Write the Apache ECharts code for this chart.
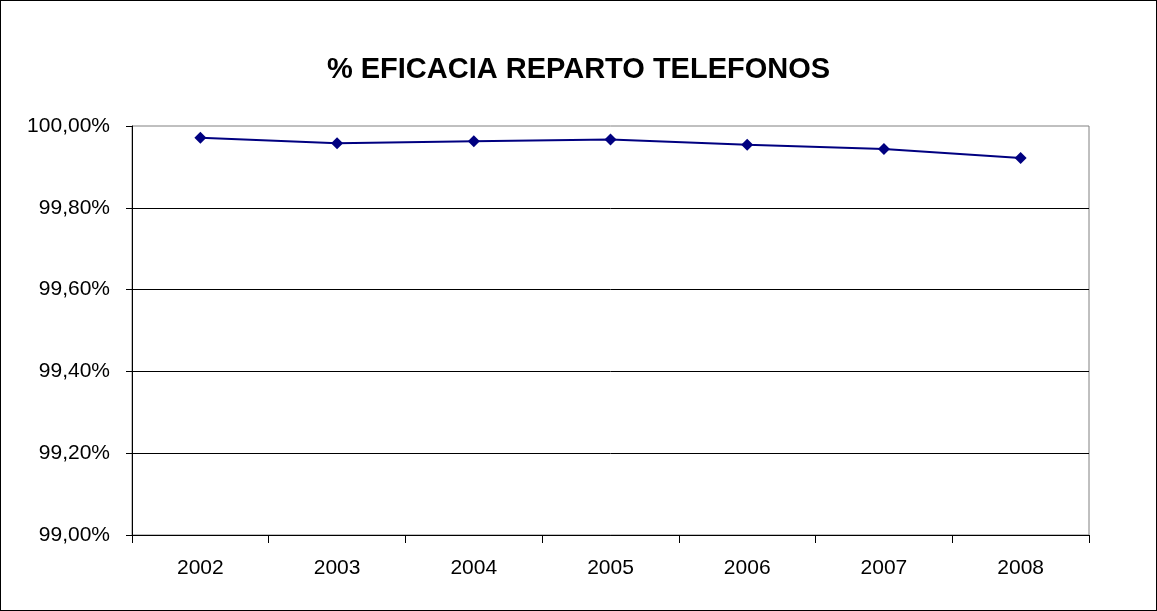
<!DOCTYPE html>
<html><head><meta charset="utf-8">
<script src="https://cdn.jsdelivr.net/npm/echarts@6/dist/echarts.min.js"></script>
<style>html,body{margin:0;padding:0;background:#fff}#c{width:1157px;height:611px;box-sizing:border-box;border:1px solid #000}</style>
</head><body><div id="c"></div>
<script>
const categories = ['2002','2003','2004','2005','2006','2007','2008'];
const values = [99.971, 99.958, 99.963, 99.967, 99.954, 99.944, 99.922];
const yTicks = [99.0, 99.2, 99.4, 99.6, 99.8, 100.0];
const titleText = '% EFICACIA REPARTO TELEFONOS';

const chart = echarts.init(document.getElementById('c'), null, {renderer:'canvas'});
chart.setOption({
  animation:false,
  title:{text:titleText,left:'center',top:49,textStyle:{fontFamily:'Liberation Sans, Arial',fontWeight:'bold',fontSize:29,color:'#000'}},
  grid:{left:131,top:125,right:67,bottom:75,show:true,borderColor:'#808080',borderWidth:1},
  xAxis:{type:'category',data:categories,boundaryGap:true,
    axisLine:{lineStyle:{color:'#000',width:1}},
    axisTick:{show:true,alignWithLabel:false,length:8,lineStyle:{color:'#000'}},
    axisLabel:{fontFamily:'Liberation Sans, Arial',fontSize:21,color:'#000',margin:23}},
  yAxis:{type:'value',min:yTicks[0],max:yTicks[yTicks.length-1],interval:0.2,
    axisLine:{show:true,lineStyle:{color:'#000',width:1}},
    axisTick:{show:true,length:6,inside:false,lineStyle:{color:'#000'}},
    splitLine:{showMaxLine:false,lineStyle:{color:'#000',width:1}},
    axisLabel:{fontFamily:'Liberation Sans, Arial',fontSize:21,color:'#000',margin:22,
      formatter:v=>v.toFixed(2).replace('.',',')+'%'}},
  series:[{type:'line',data:values,symbol:'diamond',symbolSize:12,
    lineStyle:{color:'#000080',width:2},itemStyle:{color:'#000080'}}]
});
</script></body></html>
